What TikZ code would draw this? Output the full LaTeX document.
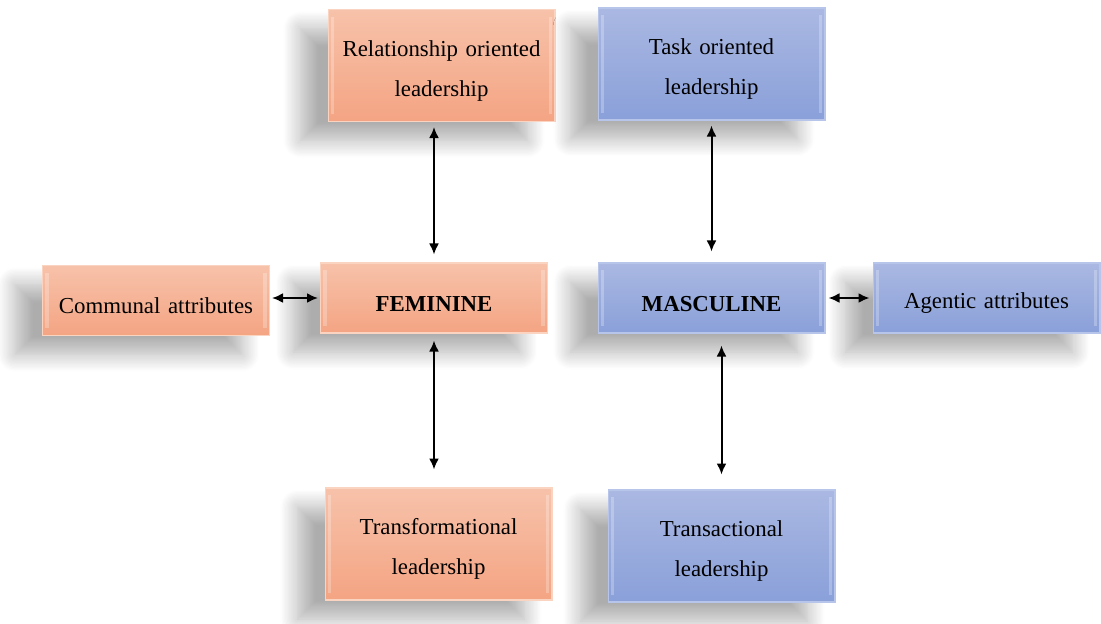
\documentclass[tikz,border=0pt]{standalone}
\usepackage{fontspec}
\setmainfont{Liberation Serif}
\usetikzlibrary{arrows.meta,shadows.blur}
\definecolor{femtop}{HTML}{F7C2AA}
\definecolor{fembot}{HTML}{F4A483}
\definecolor{femline}{HTML}{FAD3C1}
\definecolor{mastop}{HTML}{AAB8E2}
\definecolor{masbot}{HTML}{8AA0D9}
\definecolor{masline}{HTML}{B8C5EA}
\tikzset{
  box/.style={rectangle, minimum width=4.54cm, text width=4.2cm, align=center,
    font=\fontsize{13}{22.7}\selectfont, line width=0.6pt,
    execute at begin node={\rule{0pt}{15pt}},
    blur shadow={shadow xshift=-0.55cm, shadow yshift=-0.38cm, shadow blur radius=0.35cm,
      shadow blur steps=14, shadow opacity=32},
    path picture={
      \fill[white,opacity=.25] ([xshift=1.5pt,yshift=-4pt]path picture bounding box.north west) rectangle ([xshift=3.5pt,yshift=4pt]path picture bounding box.south west);
      \fill[white,opacity=.25] ([xshift=-1.5pt,yshift=-4pt]path picture bounding box.north east) rectangle ([xshift=-3.5pt,yshift=4pt]path picture bounding box.south east);}},
  fembox/.style={box, top color=femtop, bottom color=fembot, draw=femline},
  masbox/.style={box, top color=mastop, bottom color=masbot, draw=masline},
  tall/.style={minimum height=2.24cm},
  flat/.style={minimum height=1.4cm},
  link/.style={{Latex[length=0.22cm,width=0.2cm]}-{Latex[length=0.22cm,width=0.2cm]}, line width=0.04cm}
}

\begin{document}
\begin{tikzpicture}[x=0.02cm,y=-0.02cm]
\useasboundingbox (0,0) rectangle (1101,623);
\node[fembox,tall] (rel) at (441.5,65.5) {Relationship oriented\\leadership};
\node[masbox,tall] (task) at (711.5,64) {Task oriented\\leadership};
\node[fembox,flat] (comm) at (156,300.5) {Communal attributes};
\node[fembox,flat,font=\fontsize{13}{22.7}\selectfont\bfseries] (fem) at (434,298) {FEMININE};
\node[masbox,flat,font=\fontsize{13}{22.7}\selectfont\bfseries] (masc) at (711.5,298) {MASCULINE};
\node[masbox,flat] (agen) at (986.5,298) {Agentic attributes};
\node[fembox,tall] (tf) at (438.5,544) {Transformational\\leadership};
\node[masbox,tall] (tc) at (721.5,546) {Transactional\\leadership};
\draw[link, shorten <=0.16cm, shorten >=0.1cm] (fem.north) -- (fem.north |- rel.south);
\draw[link, shorten <=0.22cm, shorten >=0.1cm] (masc.north) -- (masc.north |- task.south);
\draw[link, shorten <=0.14cm, shorten >=0.36cm] (fem.south) -- (fem.south |- tf.north);
\draw[link, shorten <=0.3cm, shorten >=0.24cm] (tc.north) -- (tc.north |- masc.south);
\draw[link, shorten <=0.04cm, shorten >=0.04cm] (comm.east |- fem.west) -- (fem.west);
\draw[link, shorten <=0.06cm, shorten >=0.06cm] (masc.east) -- (agen.west);
\end{tikzpicture}
\end{document}
